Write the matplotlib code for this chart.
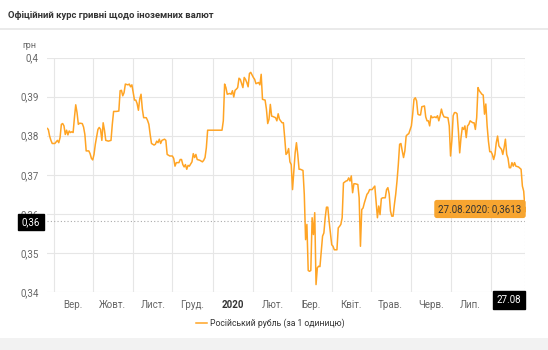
import numpy as np
import pandas as pd
import matplotlib.pyplot as plt
from matplotlib.lines import Line2D
from matplotlib.patches import Rectangle

plt.rcParams['font.family'] = ['Roboto', 'DejaVu Sans']

# Data: days since 2019-08-27 and the official UAH rate of 1 RUB
start = pd.Timestamp('2019-08-27')
days = [0, 1, 2, 3, 4, 6, 8, 9, 10, 11, 12, 13, 14, 15, 16, 17, 18, 19, 20, 21,
        22, 23, 24, 25, 27, 28, 29, 30, 32, 33, 34, 35, 36, 37, 39, 40, 41, 42, 43, 44,
        45, 47, 49, 50, 51, 52, 53, 55, 56, 57, 58, 59, 60, 62, 63, 64, 65, 67, 68, 69,
        70, 71, 72, 73, 74, 76, 77, 78, 79, 80, 82, 83, 84, 85, 86, 87, 88, 90, 91, 92,
        94, 96, 97, 98, 99, 101, 102, 103, 104, 105, 106, 107, 108, 109, 111, 112, 113, 114, 115, 117,
        119, 120, 121, 122, 123, 126, 129, 131, 134, 135, 136, 137, 138, 140, 141, 142, 143, 144, 145, 146,
        147, 148, 150, 151, 152, 153, 154, 155, 156, 158, 159, 160, 162, 163, 164, 165, 167, 168, 169, 170,
        171, 172, 173, 175, 176, 177, 178, 180, 181, 182, 183, 184, 185, 186, 187, 188, 189, 190, 191, 192,
        193, 194, 196, 197, 198, 199, 200, 201, 202, 203, 204, 205, 206, 207, 208, 209, 210, 211, 212, 213,
        214, 215, 216, 218, 219, 220, 222, 223, 224, 225, 226, 227, 229, 230, 231, 232, 233, 234, 235, 236,
        238, 239, 240, 241, 242, 243, 245, 246, 247, 249, 250, 251, 252, 253, 254, 255, 256, 257, 259, 260,
        261, 262, 263, 264, 265, 266, 267, 268, 269, 270, 271, 272, 273, 274, 275, 276, 277, 279, 280, 281,
        282, 283, 284, 285, 286, 287, 289, 290, 291, 292, 293, 294, 295, 297, 298, 299, 300, 301, 302, 303,
        304, 307, 308, 309, 310, 311, 312, 313, 314, 315, 316, 317, 318, 319, 320, 321, 322, 323, 324, 326,
        327, 328, 329, 330, 331, 333, 334, 335, 336, 337, 338, 339, 340, 341, 342, 343, 344, 345, 346, 347,
        348, 349, 350, 351, 352, 353, 354, 355, 356, 357, 358, 359, 361, 363, 364, 365, 366]
rate = [0.3819, 0.3816, 0.3799, 0.3788, 0.3780, 0.3780, 0.3788, 0.3782, 0.3795, 0.3829,
        0.3831, 0.3825, 0.3803, 0.3814, 0.3802, 0.3812, 0.3808, 0.3810, 0.3808, 0.3846,
        0.3879, 0.3859, 0.3829, 0.3832, 0.3831, 0.3822, 0.3803, 0.3761, 0.3761, 0.3754,
        0.3742, 0.3738, 0.3752, 0.3778, 0.3816, 0.3821, 0.3816, 0.3788, 0.3833, 0.3814,
        0.3788, 0.3786, 0.3788, 0.3829, 0.3862, 0.3862, 0.3862, 0.3863, 0.3915, 0.3916,
        0.3902, 0.3910, 0.3932, 0.3930, 0.3932, 0.3925, 0.3930, 0.3891, 0.3891, 0.3882,
        0.3865, 0.3894, 0.3906, 0.3868, 0.3846, 0.3846, 0.3839, 0.3829, 0.3803, 0.3780,
        0.3776, 0.3778, 0.3786, 0.3782, 0.3791, 0.3780, 0.3788, 0.3791, 0.3788, 0.3752,
        0.3748, 0.3748, 0.3742, 0.3722, 0.3731, 0.3731, 0.3739, 0.3739, 0.3726, 0.3720,
        0.3726, 0.3714, 0.3724, 0.3722, 0.3733, 0.3754, 0.3744, 0.3752, 0.3739, 0.3737,
        0.3733, 0.3737, 0.3744, 0.3769, 0.3814, 0.3814, 0.3814, 0.3814, 0.3814, 0.3838,
        0.3932, 0.3923, 0.3906, 0.3908, 0.3906, 0.3915, 0.3899, 0.3916, 0.3919, 0.3923,
        0.3947, 0.3944, 0.3923, 0.3949, 0.3944, 0.3936, 0.3925, 0.3959, 0.3962, 0.3949,
        0.3944, 0.3933, 0.3936, 0.3930, 0.3957, 0.3893, 0.3891, 0.3868, 0.3831, 0.3842,
        0.3880, 0.3850, 0.3849, 0.3846, 0.3838, 0.3856, 0.3842, 0.3833, 0.3833, 0.3795,
        0.3752, 0.3756, 0.3767, 0.3733, 0.3726, 0.3662, 0.3709, 0.3756, 0.3782, 0.3752,
        0.3714, 0.3714, 0.3711, 0.3650, 0.3534, 0.3573, 0.3455, 0.3453, 0.3455, 0.3590,
        0.3547, 0.3603, 0.3419, 0.3462, 0.3466, 0.3465, 0.3504, 0.3543, 0.3551, 0.3590,
        0.3617, 0.3617, 0.3581, 0.3521, 0.3517, 0.3508, 0.3508, 0.3564, 0.3568, 0.3573,
        0.3590, 0.3679, 0.3684, 0.3685, 0.3692, 0.3684, 0.3697, 0.3654, 0.3677, 0.3677,
        0.3675, 0.3641, 0.3517, 0.3611, 0.3615, 0.3628, 0.3650, 0.3654, 0.3662, 0.3662,
        0.3667, 0.3671, 0.3632, 0.3590, 0.3620, 0.3598, 0.3639, 0.3641, 0.3641, 0.3662,
        0.3667, 0.3651, 0.3607, 0.3594, 0.3594, 0.3624, 0.3650, 0.3684, 0.3726, 0.3778,
        0.3780, 0.3761, 0.3744, 0.3761, 0.3799, 0.3803, 0.3805, 0.3825, 0.3855, 0.3893,
        0.3897, 0.3889, 0.3855, 0.3853, 0.3853, 0.3874, 0.3876, 0.3848, 0.3838, 0.3838,
        0.3825, 0.3851, 0.3846, 0.3848, 0.3846, 0.3851, 0.3838, 0.3851, 0.3868, 0.3855,
        0.3848, 0.3846, 0.3825, 0.3748, 0.3788, 0.3851, 0.3859, 0.3859, 0.3856, 0.3812,
        0.3756, 0.3795, 0.3821, 0.3816, 0.3825, 0.3795, 0.3825, 0.3829, 0.3838, 0.3833,
        0.3833, 0.3816, 0.3846, 0.3923, 0.3915, 0.3906, 0.3904, 0.3855, 0.3881, 0.3825,
        0.3786, 0.3759, 0.3759, 0.3752, 0.3739, 0.3752, 0.3782, 0.3799, 0.3774, 0.3769,
        0.3765, 0.3752, 0.3769, 0.3791, 0.3752, 0.3742, 0.3718, 0.3718, 0.3731, 0.3722,
        0.3731, 0.3722, 0.3720, 0.3714, 0.3671, 0.3658, 0.3613]

month_labels = ['Вер.', 'Жовт.', 'Лист.', 'Груд.', '2020', 'Лют.', 'Бер.',
                'Квіт.', 'Трав.', 'Черв.', 'Лип.']
y_ticks = [0.34, 0.35, 0.36, 0.37, 0.38, 0.39, 0.40]
y_labels = ['0,34', '0,35', '0,36', '0,37', '0,38', '0,39', '0,4']
series_name = 'Російський рубль (за 1 одиницю)'
title = 'Офіційний курс гривні щодо іноземних валют'
last_label = '27.08'
tooltip = '27.08.2020: 0,3613'
cross_value = 0.3582

dates = start + pd.to_timedelta(days, unit='D')
month_starts = pd.date_range('2019-09-01', '2020-08-01', freq='MS')
month_mids = month_starts[:-1] + pd.Timedelta(days=15)

orange = '#ffa424'
grid_c = '#e6e6e6'
text_c = '#666666'

fig = plt.figure(figsize=(5.48, 3.5), dpi=100)
ax = fig.add_axes([47 / 548, 58 / 350, 478 / 548, 234.5 / 350])

ax.plot(dates, rate, color=orange, lw=1.1, zorder=3)
ax.plot(dates[-1:], rate[-1:], 'o', color=orange, ms=3, zorder=4)
ax.set_xlim(dates[0], dates[-1])
ax.set_ylim(0.34, 0.40)

# grid: month boundaries and every 0.01
ax.set_xticks(month_starts)
ax.set_xticklabels([])
ax.set_xticks(month_mids, minor=True)
ax.set_xticklabels(month_labels, minor=True)
ax.set_yticks(y_ticks)
ax.set_yticklabels(y_labels)
ax.grid(True, which='major', color=grid_c, lw=0.8)
ax.tick_params(which='both', length=0, labelsize=7, colors=text_c)
ax.tick_params(axis='x', which='minor', pad=6)
ax.tick_params(axis='y', pad=6)
for lab in ax.get_xticklabels(minor=True):
    if lab.get_text() == '2020':
        lab.set_fontweight('bold')
        lab.set_color('#333333')
for s in ax.spines.values():
    s.set_visible(False)

# crosshair
ax.axhline(cross_value, color='#aaaaaa', lw=0.8, ls=(0, (1, 2)), zorder=2)
ax.axvline(dates[-1], color='#cccccc', lw=0.8, ls=(0, (1, 2)), zorder=2)
fig.text(31 / 548, 1 - 222 / 350, '0,36', color='white', fontsize=7,
         ha='center', va='center', zorder=5,
         bbox=dict(boxstyle='square,pad=0.35', fc='black', ec='black'))
fig.text(509 / 548, 1 - 300 / 350, last_label, color='white', fontsize=7,
         ha='center', va='center', zorder=5,
         bbox=dict(boxstyle='square,pad=0.4', fc='black', ec='black'))
fig.text(480 / 548, 1 - 209 / 350, tooltip, color='#333333', fontsize=7,
         ha='center', va='center', zorder=5,
         bbox=dict(boxstyle='round,pad=0.35,rounding_size=0.2', fc='#f7a530', ec='#f7a530'))

fig.text(22 / 548, 1 - 46 / 350, 'грн', color=text_c, fontsize=6.5, ha='left', va='center')

# header and footer
fig.text(8 / 548, 1 - 15 / 350, title, fontsize=6.8, fontweight='bold',
         color='#333333', ha='left', va='center')
fig.add_artist(Line2D([0, 1], [1 - 29 / 350] * 2, color=grid_c, lw=1.2))
fig.add_artist(Rectangle((0, 0), 1, 12 / 350, transform=fig.transFigure,
                         fc='#f2f2f2', ec='none'))

# legend
fig.add_artist(Line2D([196 / 548, 207 / 548], [1 - 323 / 350] * 2, color=orange, lw=1.1))
fig.text(210 / 548, 1 - 323 / 350, series_name, fontsize=6.2, color='#333333',
         ha='left', va='center')

fig.savefig('out.png', dpi=100)
